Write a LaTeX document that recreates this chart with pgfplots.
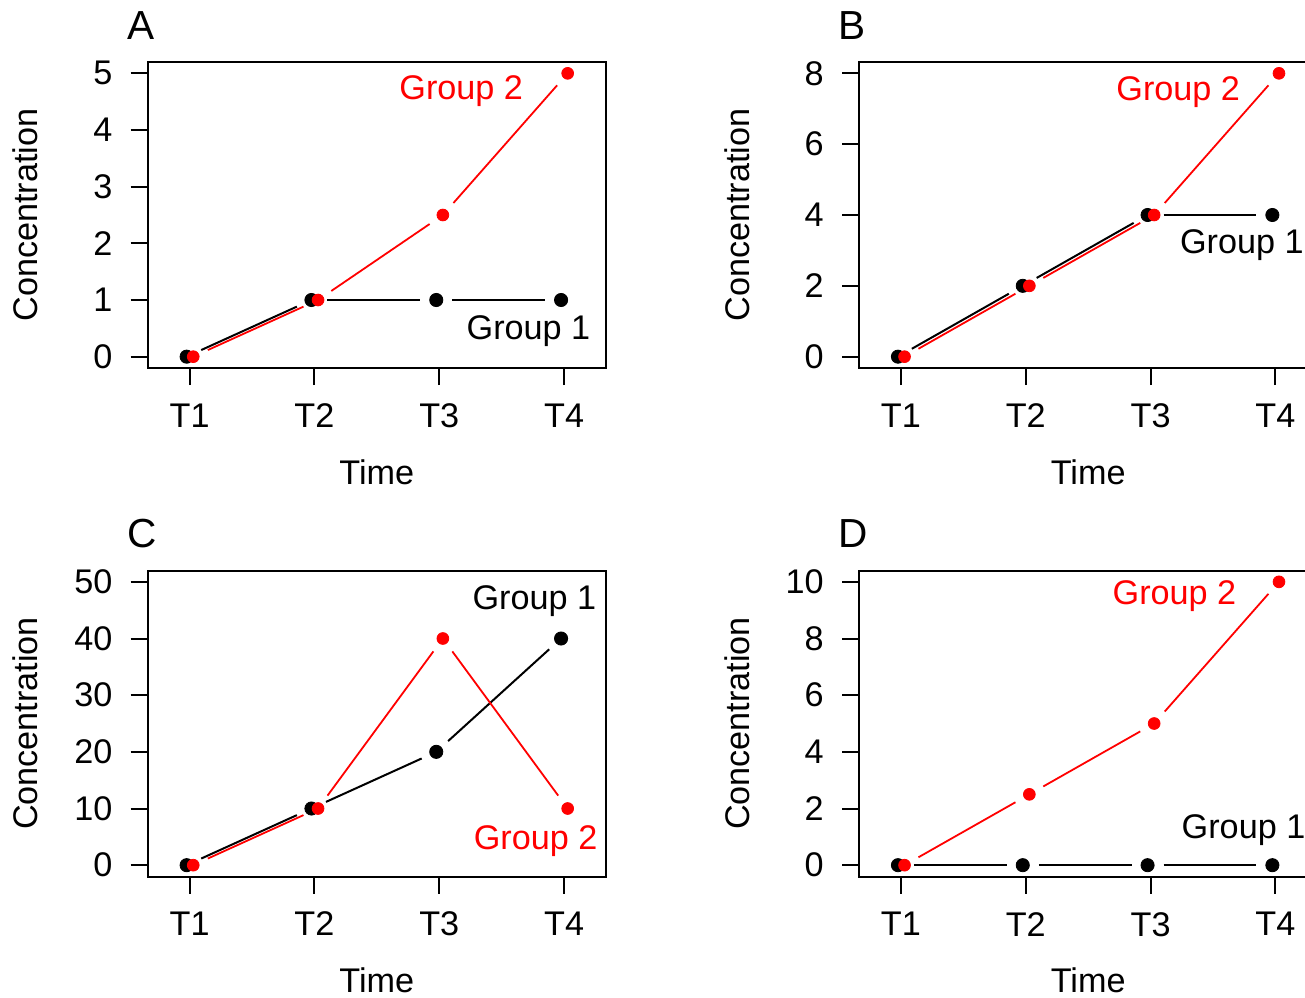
\documentclass[border=0pt]{standalone}
\usepackage{fontspec}
\setmainfont{Liberation Sans}
\usepackage{pgfplots}
\pgfplotsset{compat=1.18}
\newcommand{\fsz}{\fontsize{17.1pt}{20pt}\selectfont}
\newcommand{\fszL}{\fontsize{20.3pt}{24pt}\selectfont}
\pgfplotsset{
  rstyle/.style={
    scale only axis, width=229.15pt, height=153pt,
    anchor=north west,
    clip mode=individual,
    axis line style={line width=1pt, black},
    tick pos=left, tick align=outside, major tick length=8.5pt,
    every tick/.style={black, line width=1pt},
    xmin=0.664, xmax=4.336, xtick={1,2,3,4}, xticklabels={T1,T2,T3,T4},
    /pgf/number format/assume math mode=true,
    tick label style={font=\fsz},
    xticklabel style={anchor=north, inner sep=0pt, yshift=-9.1pt},
    yticklabel style={anchor=east, inner sep=0pt, xshift=-9pt},
    xlabel={Time}, ylabel={Concentration},
    every axis x label/.style={at={(axis description cs:0.5,-0.2974)}, anchor=north, inner sep=0pt, font=\fsz},
    every axis y label/.style={at={(axis description cs:-0.24,0.5)}, rotate=90, anchor=base, inner sep=0pt, font=\fsz},
  },
  g1line/.style={black, line width=1pt, xshift=-1.5pt, shorten <=8pt, shorten >=8pt, mark=none, forget plot},
  g1mark/.style={black, only marks, mark=*, mark size=3.3pt, mark options={draw=black, fill=black, line width=0.4pt}, xshift=-1.5pt, forget plot},
  g2line/.style={red, line width=0.9pt, xshift=1.8pt, shorten <=8pt, shorten >=8pt, mark=none, forget plot},
  g2mark/.style={red, only marks, mark=*, mark size=2.95pt, mark options={draw=red, fill=red, line width=0.4pt}, xshift=1.8pt, forget plot},
}
\newcommand{\grp}[6]{%
  \addplot[#1] coordinates {(1,#3) (2,#4)};
  \addplot[#1] coordinates {(2,#4) (3,#5)};
  \addplot[#1] coordinates {(3,#5) (4,#6)};
  \addplot[#2] coordinates {(1,#3) (2,#4) (3,#5) (4,#6)};
}
\newcommand{\plet}[1]{\node[anchor=base west, inner sep=0pt, font=\fszL] at (rel axis cs:-0.0458,1.075) {#1};}
\begin{document}
\begin{tikzpicture}[x=1pt,y=1pt]
\useasboundingbox (0,0) rectangle (652.5,-498.5);
\clip (0,0) rectangle (652.5,-498.5);

% Panel A
\begin{axis}[rstyle, at={(73.85pt,-31pt)}, ymin=-0.2, ymax=5.2, ytick={0,1,2,3,4,5}]
  \grp{g1line}{g1mark}{0}{1}{1}{1}
  \grp{g2line}{g2mark}{0}{1}{2.5}{5}
  \node[anchor=base east, inner sep=0pt, red, font=\fsz] at (axis cs:3.674,4.53) {Group 2};
  \node[anchor=base east, inner sep=0pt, black, font=\fsz] at (axis cs:4.213,0.30) {Group 1};
  \plet{A}
\end{axis}

% Panel B
\begin{axis}[rstyle, at={(429.5pt,-31pt)}, ymin=-0.32, ymax=8.32, ytick={0,2,4,6,8}]
  \grp{g1line}{g1mark}{0}{2}{4}{4}
  \grp{g2line}{g2mark}{0}{2}{4}{8}
  \node[anchor=base east, inner sep=0pt, red, font=\fsz] at (axis cs:3.72,7.245) {Group 2};
  \node[anchor=base east, inner sep=0pt, black, font=\fsz] at (axis cs:4.23,2.91) {Group 1};
  \plet{B}
\end{axis}

% Panel C
\begin{axis}[rstyle, at={(73.85pt,-285.25pt)}, ymin=-2, ymax=52, ytick={0,10,20,30,40,50}]
  \grp{g1line}{g1mark}{0}{10}{20}{40}
  \grp{g2line}{g2mark}{0}{10}{40}{10}
  \node[anchor=base east, inner sep=0pt, black, font=\fsz] at (axis cs:4.26,45.1) {Group 1};
  \node[anchor=base east, inner sep=0pt, red, font=\fsz] at (axis cs:4.27,2.78) {Group 2};
  \plet{C}
\end{axis}

% Panel D
\begin{axis}[rstyle, at={(429.5pt,-285.25pt)}, ymin=-0.4, ymax=10.4, ytick={0,2,4,6,8,10}]
  \grp{g1line}{g1mark}{0}{0}{0}{0}
  \grp{g2line}{g2mark}{0}{2.5}{5}{10}
  \node[anchor=base east, inner sep=0pt, red, font=\fsz] at (axis cs:3.69,9.2) {Group 2};
  \node[anchor=base east, inner sep=0pt, black, font=\fsz] at (axis cs:4.243,0.95) {Group 1};
  \plet{D}
\end{axis}
\end{tikzpicture}
\end{document}
